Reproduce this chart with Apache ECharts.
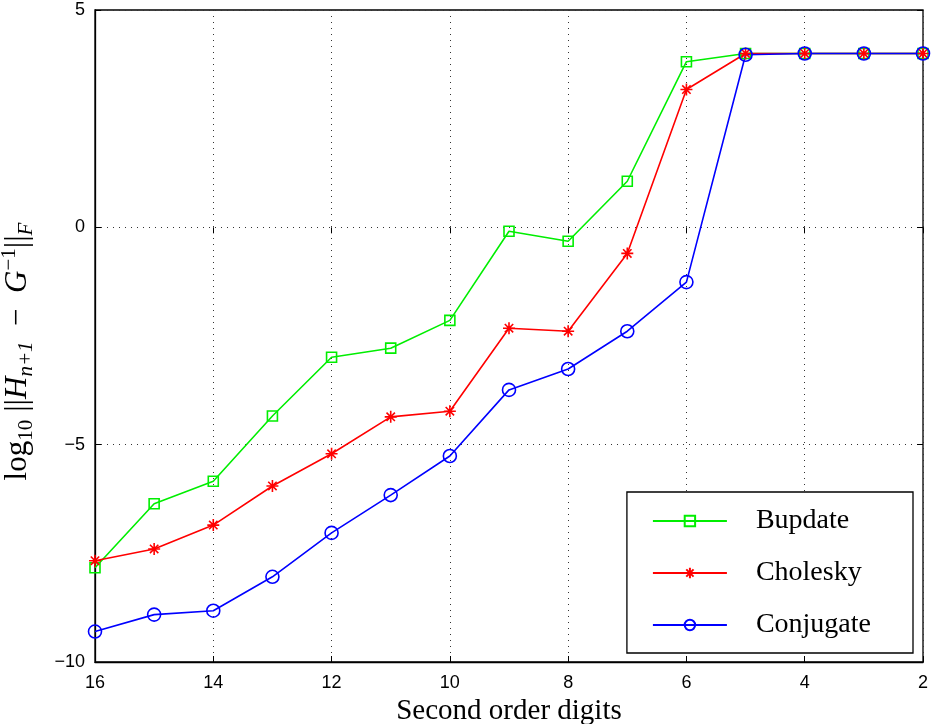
<!DOCTYPE html>
<html>
<head>
<meta charset="utf-8">
<script src="https://cdn.jsdelivr.net/npm/echarts@6/dist/echarts.min.js"></script>
<style>
  html, body { margin: 0; padding: 0; background: #fff; }
  #chart { width: 935px; height: 724px; }
</style>
</head>
<body>
<div id="chart"></div>
<script>
// second order digits on the x axis (reversed: 16 -> 2)
var digits = [16, 15, 14, 13, 12, 11, 10, 9, 8, 7, 6, 5, 4, 3, 2];

// log10 ||H_{n+1} - G^{-1}||_F
var bupdate   = [-7.83, -6.36, -5.84, -4.34, -2.99, -2.78, -2.14, -0.09, -0.32, 1.06, 3.81, 4.0, 4.0, 4.0, 4.0];
var cholesky  = [-7.67, -7.40, -6.85, -5.95, -5.21, -4.36, -4.23, -2.32, -2.39, -0.60, 3.17, 4.0, 4.0, 4.0, 4.0];
var conjugate = [-9.30, -8.91, -8.82, -8.04, -7.03, -6.16, -5.26, -3.74, -3.26, -2.39, -1.26, 3.97, 4.0, 4.0, 4.0];

var seriesNames = ['Bupdate', 'Cholesky', 'Conjugate'];

function pairs(vals) {
  return digits.map(function (d, i) { return [d, vals[i]]; });
}

var serif = '"Liberation Serif", "DejaVu Serif", serif';
var sans = '"Liberation Sans", Arial, sans-serif';
var starPath = 'path://M0,-10L0,10M-10,0L10,0M-7,-7L7,7M-7,7L7,-7';

function lineSeries(name, vals, color, symbol, size) {
  return {
    name: name,
    type: 'line',
    data: pairs(vals),
    symbol: symbol,
    symbolSize: size,
    showAllSymbol: true,
    animation: false,
    lineStyle: { color: color, width: 1.6 },
    itemStyle: { color: 'rgba(255,255,255,0)', borderColor: color, borderWidth: 1.6 }
  };
}

var dotted = { show: true, lineStyle: { color: '#333', type: [1, 5], width: 1 } };

var option = {
  backgroundColor: '#fff',
  grid: {
    left: 95, right: 12, top: 10, bottom: 62,
    outerBoundsMode: 'none',
    show: true, borderColor: '#000', borderWidth: 1.3
  },
  legend: {
    orient: 'vertical',
    right: 22,
    top: 492,
    padding: [15, 42, 14, 25],
    itemGap: 24,
    itemWidth: 74,
    itemHeight: 13,
    backgroundColor: '#fff',
    borderColor: '#000',
    borderWidth: 1.3,
    data: seriesNames,
    textStyle: { fontFamily: serif, fontSize: 28, color: '#000', padding: [0, 0, 0, 24] }
  },
  xAxis: [{
    type: 'value',
    inverse: true,
    min: 2, max: 16, interval: 2,
    name: 'Second order digits',
    nameLocation: 'middle',
    nameGap: 29,
    nameTextStyle: { fontFamily: serif, fontSize: 29, color: '#000' },
    axisLine: { show: true, onZero: false, lineStyle: { color: '#000', width: 1.3 } },
    axisTick: { show: true, inside: true, length: 6, lineStyle: { color: '#000' } },
    axisLabel: { fontFamily: sans, fontSize: 18, color: '#000', margin: 12 },
    splitLine: dotted
  }, {
    type: 'value', position: 'top', inverse: true,
    min: 2, max: 16, interval: 2,
    axisLine: { show: false },
    axisTick: { show: true, inside: true, length: 6, lineStyle: { color: '#000' } },
    axisLabel: { show: false }, splitLine: { show: false }
  }],
  yAxis: [{
    type: 'value',
    min: -10, max: 5, interval: 5,
    name: '{n|log}{s|10}{b| ||}{i|H}{si|n+1}{n|  −  }{i|G}{sp|−1}{b|||}{si|F}{n|    }',
    nameLocation: 'middle',
    nameGap: 58,
    nameRotate: 90,
    nameTextStyle: {
      color: '#000',
      rich: {
        n: { fontFamily: serif, fontSize: 31, color: '#000' },
        b: { fontFamily: serif, fontSize: 32, color: '#000' },
        i: { fontFamily: serif, fontSize: 31, fontStyle: 'italic', color: '#000' },
        s: { fontFamily: serif, fontSize: 21, color: '#000', padding: [17, 0, 0, 0] },
        si: { fontFamily: serif, fontSize: 21, fontStyle: 'italic', color: '#000', padding: [17, 0, 0, 0] },
        sp: { fontFamily: serif, fontSize: 21, color: '#000', padding: [0, 0, 17, 0] }
      }
    },
    axisLine: { show: true, onZero: false, lineStyle: { color: '#000', width: 1.3 } },
    axisTick: { show: true, inside: true, length: 6, lineStyle: { color: '#000' } },
    axisLabel: {
      fontFamily: sans, fontSize: 18, color: '#000', margin: 10,
      formatter: function (v) { return String(v).replace('-', '\u2212'); }
    },
    splitLine: dotted
  }, {
    type: 'value', position: 'right',
    min: -10, max: 5, interval: 5,
    axisLine: { show: false },
    axisTick: { show: true, inside: true, length: 6, lineStyle: { color: '#000' } },
    axisLabel: { show: false }, splitLine: { show: false }
  }],
  series: [
    lineSeries('Bupdate', bupdate, '#00ee00', 'rect', 10),
    lineSeries('Cholesky', cholesky, '#ff0000', starPath, 12),
    lineSeries('Conjugate', conjugate, '#0000ff', 'circle', 13)
  ]
};

var chart = echarts.init(document.getElementById('chart'), null, { renderer: 'canvas' });
chart.setOption(option);
</script>
</body>
</html>
